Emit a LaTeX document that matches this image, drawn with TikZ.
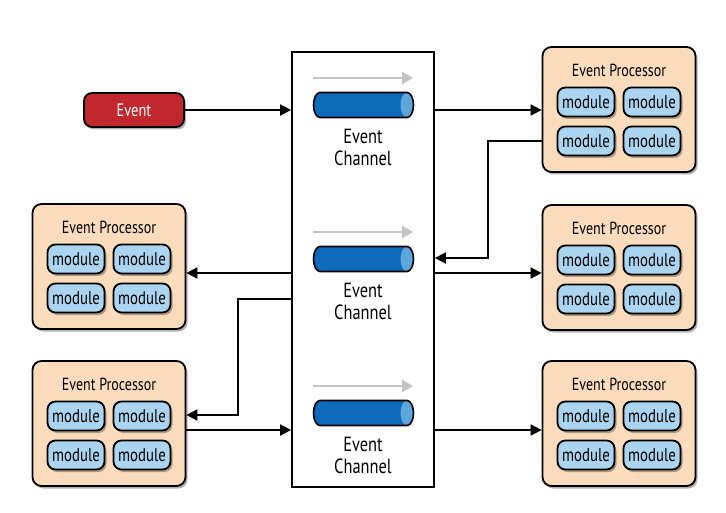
\documentclass[tikz,border=0pt]{standalone}
\usepackage{fontspec}
\setmainfont{PT Sans}[FakeStretch=0.8]
\usetikzlibrary{arrows.meta,shadows,calc}
\definecolor{procfill}{HTML}{FADCBC}
\definecolor{modfill}{HTML}{AAD4EF}
\definecolor{evred}{HTML}{C1272D}
\definecolor{chblue}{HTML}{0B6BB8}
\definecolor{chend}{HTML}{5CA6DC}
\definecolor{arrgrey}{HTML}{C4C4C4}
\newcommand\procbox[3]{%
  \node[proc] (#1) at (#2,#3+62.5) {};
  \node[ptitle] (#1t) at (#2,#3+23) {Event Processor};
  \node[mod] (#1a) at (#2-33,#3+55) {module};
  \node[mod] (#1b) at (#2+33,#3+55) {module};
  \node[mod] (#1c) at (#2-33,#3+94) {module};
  \node[mod] (#1d) at (#2+33,#3+94) {module};
}
\newcommand\chanbox[2]{%
  \coordinate (#1g1) at (313,#2);
  \coordinate (#1g2) at (413,#2);
  \draw[gar] (#1g1) -- (#1g2);
  \fill[chblue] (320,#2+27-12.5) -- (407,#2+27-12.5)
     arc[start angle=-90, end angle=90, x radius=6.5, y radius=12.5]
     -- (320,#2+27+12.5)
     arc[start angle=90, end angle=270, x radius=6.5, y radius=12.5] -- cycle;
  \fill[chend] (407,#2+27) ellipse[x radius=6.5, y radius=12.5];
  \draw[line width=1.6pt] (320,#2+27-12.5) -- (407,#2+27-12.5)
     arc[start angle=-90, end angle=90, x radius=6.5, y radius=12.5]
     -- (320,#2+27+12.5)
     arc[start angle=90, end angle=270, x radius=6.5, y radius=12.5] -- cycle;
  \node[chtext] (#1l) at (363,#2+69) {Event\\Channel};
}
\begin{document}
\begin{tikzpicture}[x=1pt,y=-1pt,
  line width=1.8pt,
  shd/.style={drop shadow={shadow xshift=2pt,shadow yshift=-2.5pt,opacity=0.3,fill=black}},
  proc/.style={draw, fill=procfill, rounded corners=9pt, minimum width=153pt, minimum height=125pt, shd},
  ptitle/.style={inner sep=0pt, font=\fontsize{17.5}{20}\selectfont},
  mod/.style={draw, fill=modfill, rounded corners=8pt, minimum width=57pt, minimum height=29pt, inner sep=0pt, font=\fontsize{18.5}{20}\selectfont, shd},
  chbox/.style={draw, fill=white, minimum width=142pt, minimum height=435pt, inner sep=0pt},
  chtext/.style={align=center, inner sep=0pt, font=\fontsize{20.5}{22}\selectfont},
  gar/.style={draw=arrgrey, line width=2.6pt, -{Triangle[length=11pt,width=12pt]}},
  arr/.style={draw, line width=1.8pt, -{Triangle[length=11pt,width=11pt]}},
  evnode/.style={draw, fill=evred, text=white, rounded corners=8pt, minimum width=100pt, minimum height=34pt, font=\fontsize{18}{20}\selectfont, shd}
]
\useasboundingbox (0,0) rectangle (726,513);
% channel box
\node[chbox] (ch) at (363,269.5) {};
\chanbox{c1}{78}
\chanbox{c2}{232}
\chanbox{c3}{386}
% event
\node[evnode] (ev) at (134,110) {Event};
% processors
\procbox{P1}{619}{47}
\procbox{P2}{619}{205}
\procbox{P3}{619}{361}
\procbox{L1}{109}{204}
\procbox{L2}{109}{361}
% helper coordinates
\coordinate (y2) at (0,273);
\coordinate (y3) at (0,430);
\coordinate (r1a) at (488,141);
\coordinate (r1b) at (488,258);
\coordinate (r2a) at (238,299);
\coordinate (r2b) at (238,415);
% connectors
\draw[arr] (ev.east) -- (ev.east -| ch.west);
\draw[arr] (ch.east |- ev) -- (P1.west |- ev);
\draw[arr] (P1.west |- r1a) -- (r1a) -- (r1b) -- (r1b -| ch.east);
\draw[arr] (ch.east |- y2) -- (P2.west |- y2);
\draw[arr] (ch.west |- y2) -- (L1.east |- y2);
\draw[arr] (ch.west |- r2a) -- (r2a) -- (r2b) -- (r2b -| L2.east);
\draw[arr] (L2.east |- y3) -- (ch.west |- y3);
\draw[arr] (ch.east |- y3) -- (P3.west |- y3);
\end{tikzpicture}
\end{document}
